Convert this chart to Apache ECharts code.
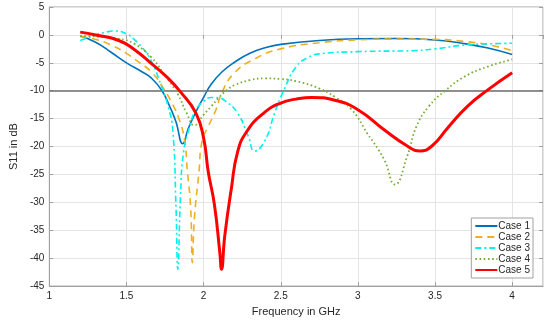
<!DOCTYPE html>
<html><head><meta charset="utf-8">
<script src="https://cdn.jsdelivr.net/npm/echarts@6/dist/echarts.min.js"></script>
<style>html,body{margin:0;padding:0;background:#fff}#c{width:550px;height:322px}</style>
</head><body><div id="c"></div>
<script>
var xTicks = [1, 1.5, 2, 2.5, 3, 3.5, 4];
var yTicks = [5, 0, -5, -10, -15, -20, -25, -30, -35, -40, -45];
var names = ['Case 1', 'Case 2', 'Case 3', 'Case 4', 'Case 5'];

var f1 = [1.2, 1.3, 1.4, 1.5, 1.6, 1.66, 1.73, 1.78, 1.82, 1.865, 1.9, 1.95, 2.0, 2.05, 2.12, 2.2, 2.3, 2.4, 2.5, 2.75, 3.0, 3.25, 3.5, 3.7, 3.85, 4.0];
var s1 = [-0.2, -1.3, -3.1, -5.0, -6.6, -7.7, -10.0, -12.8, -15.5, -19.5, -16.8, -13.8, -11.2, -8.8, -6.6, -4.9, -3.3, -2.3, -1.7, -1.0, -0.7, -0.65, -0.9, -1.6, -2.4, -3.5];

var f2 = [1.2, 1.3, 1.4, 1.5, 1.55, 1.66, 1.74, 1.8, 1.84, 1.875, 1.895, 1.916, 1.927, 1.94, 1.97, 1.99, 2.03, 2.08, 2.12, 2.2, 2.33, 2.5, 2.75, 3.0, 3.25, 3.5, 3.7, 3.85, 4.0];
var s2 = [-0.3, -0.8, -1.8, -3.3, -4.3, -6.6, -9.6, -12.5, -15.0, -18.6, -24.5, -31.0, -40.8, -33.0, -24.5, -19.0, -16.4, -13.4, -10.2, -6.8, -4.3, -2.5, -1.4, -0.9, -0.75, -0.8, -1.2, -1.8, -2.8];

var f3 = [1.2, 1.25, 1.3, 1.35, 1.43, 1.5, 1.55, 1.6, 1.66, 1.72, 1.77, 1.8, 1.82, 1.833, 1.85, 1.87, 1.91, 1.95, 2.0, 2.05, 2.1, 2.14, 2.22, 2.29, 2.33, 2.4, 2.46, 2.52, 2.6, 2.68, 2.75, 3.0, 3.38, 3.5, 3.7, 3.85, 4.0];
var s3 = [-1.0, -0.5, 0.0, 0.4, 0.7, 0.2, -0.8, -2.2, -4.6, -8.7, -12.8, -17.0, -30.0, -42.0, -29.0, -21.0, -16.4, -13.4, -11.9, -11.2, -11.3, -11.8, -14.0, -18.2, -20.8, -18.8, -14.0, -9.9, -5.7, -4.0, -3.4, -3.0, -2.8, -2.5, -1.8, -1.6, -1.5];

var f4 = [1.2, 1.3, 1.45, 1.55, 1.66, 1.74, 1.83, 1.89, 1.94, 2.0, 2.05, 2.1, 2.15, 2.2, 2.3, 2.4, 2.5, 2.6, 2.75, 2.85, 2.96, 3.06, 3.17, 3.24, 3.32, 3.38, 3.46, 3.57, 3.69, 3.84, 4.0];
var s4 = [-0.2, -0.3, -0.7, -1.6, -4.0, -6.9, -10.5, -14.0, -16.2, -14.3, -12.8, -11.2, -9.9, -9.0, -8.1, -7.8, -7.9, -8.3, -9.6, -11.1, -13.4, -17.6, -22.3, -26.8, -21.7, -16.4, -12.8, -9.9, -7.5, -5.7, -4.4];

var f5 = [1.2, 1.3, 1.45, 1.55, 1.66, 1.76, 1.85, 1.95, 2.0, 2.03, 2.07, 2.105, 2.116, 2.137, 2.18, 2.22, 2.28, 2.39, 2.5, 2.6, 2.7, 2.85, 3.0, 3.17, 3.32, 3.4, 3.48, 3.59, 3.71, 3.84, 4.0];
var s5 = [0.5, 0.0, -1.0, -2.6, -5.1, -7.5, -10.2, -14.0, -18.5, -24.5, -30.4, -39.0, -42.0, -36.0, -27.5, -21.0, -17.3, -14.0, -12.2, -11.5, -11.2, -11.7, -13.4, -17.0, -19.9, -20.8, -19.9, -16.4, -12.8, -9.9, -6.8];

var refLine = -10;

function pairs(f, s) { return f.map(function (x, i) { return [x, s[i]]; }); }

var styles = [
  { color: '#0072BD', width: 1.6, type: 'solid' },
  { color: '#EDB120', width: 1.6, type: [7, 5] },
  { color: '#00F0F0', width: 1.6, type: [6, 3, 2, 3] },
  { color: '#77AC30', width: 1.8, type: [1.6, 2.6] },
  { color: '#FF0000', width: 3, type: 'solid' }
];
var data = [pairs(f1, s1), pairs(f2, s2), pairs(f3, s3), pairs(f4, s4), pairs(f5, s5)];

var series = names.map(function (n, i) {
  return {
    name: n, type: 'line', data: data[i], showSymbol: false, symbol: 'circle',
    smooth: 0.5,
    lineStyle: { color: styles[i].color, width: styles[i].width, type: styles[i].type },
    itemStyle: { color: styles[i].color },
    z: 3 + i
  };
});
series[0].markLine = {
  silent: true, symbol: 'none', label: { show: false },
  lineStyle: { color: '#6e6e6e', width: 1.5, type: 'solid' },
  data: [{ yAxis: refLine }]
};

var fontFam = 'Liberation Sans, Arial, sans-serif';
var labelFmtX = function (v) { return xTicks.indexOf(+v.toFixed(2)) >= 0 ? String(+v.toFixed(2)) : ''; };

var chart = echarts.init(document.getElementById('c'), null, { renderer: 'canvas' });
chart.setOption({
  animation: false,
  backgroundColor: '#fff',
  grid: { left: 36, right: 7, top: 7, bottom: 33, show: true, borderColor: '#a0a0a0', borderWidth: 1, containLabel: false },
  legend: {
    data: names, orient: 'vertical', right: 17, bottom: 44,
    backgroundColor: '#fff', borderColor: '#a0a0a0', borderWidth: 1,
    padding: [3, 3, 3, 3], itemGap: 1, itemWidth: 22, itemHeight: 11,
    itemStyle: { opacity: 0 },
    textStyle: { fontFamily: fontFam, fontSize: 10, color: '#262626', padding: [0, 0, 0, -4] }
  },
  xAxis: [{
    type: 'value', min: 1, max: 4.2, interval: 0.5,
    name: 'Frequency in GHz', nameLocation: 'middle', nameGap: 19,
    nameTextStyle: { fontFamily: fontFam, fontSize: 11, color: '#262626' },
    axisLine: { show: true, onZero: false, lineStyle: { color: '#a0a0a0' } },
    axisTick: { show: true, inside: true, length: 4, lineStyle: { color: '#a0a0a0' } },
    axisLabel: { fontFamily: fontFam, fontSize: 10, color: '#262626', margin: 5, formatter: labelFmtX, showMaxLabel: false },
    splitLine: { show: true, lineStyle: { color: '#e4e4e4', width: 1 } }
  }, {
    type: 'value', min: 1, max: 4.2, interval: 0.5, position: 'top',
    axisLine: { show: false }, axisTick: { show: true, inside: true, length: 4, lineStyle: { color: '#a0a0a0' } },
    axisLabel: { show: false }, splitLine: { show: false }
  }],
  yAxis: [{
    type: 'value', min: -45, max: 5, interval: 5,
    name: 'S11 in dB', nameLocation: 'middle', nameGap: 21, nameRotate: 90,
    nameTextStyle: { fontFamily: fontFam, fontSize: 11, color: '#262626' },
    axisLine: { show: true, onZero: false, lineStyle: { color: '#a0a0a0' } },
    axisTick: { show: true, inside: true, length: 4, lineStyle: { color: '#a0a0a0' } },
    axisLabel: { fontFamily: fontFam, fontSize: 10, color: '#262626', margin: 5 },
    splitLine: { show: true, lineStyle: { color: '#e4e4e4', width: 1 } }
  }, {
    type: 'value', min: -45, max: 5, interval: 5, position: 'right',
    axisLine: { show: false }, axisTick: { show: true, inside: true, length: 4, lineStyle: { color: '#a0a0a0' } },
    axisLabel: { show: false }, splitLine: { show: false }
  }],
  series: series
});
</script></body></html>
